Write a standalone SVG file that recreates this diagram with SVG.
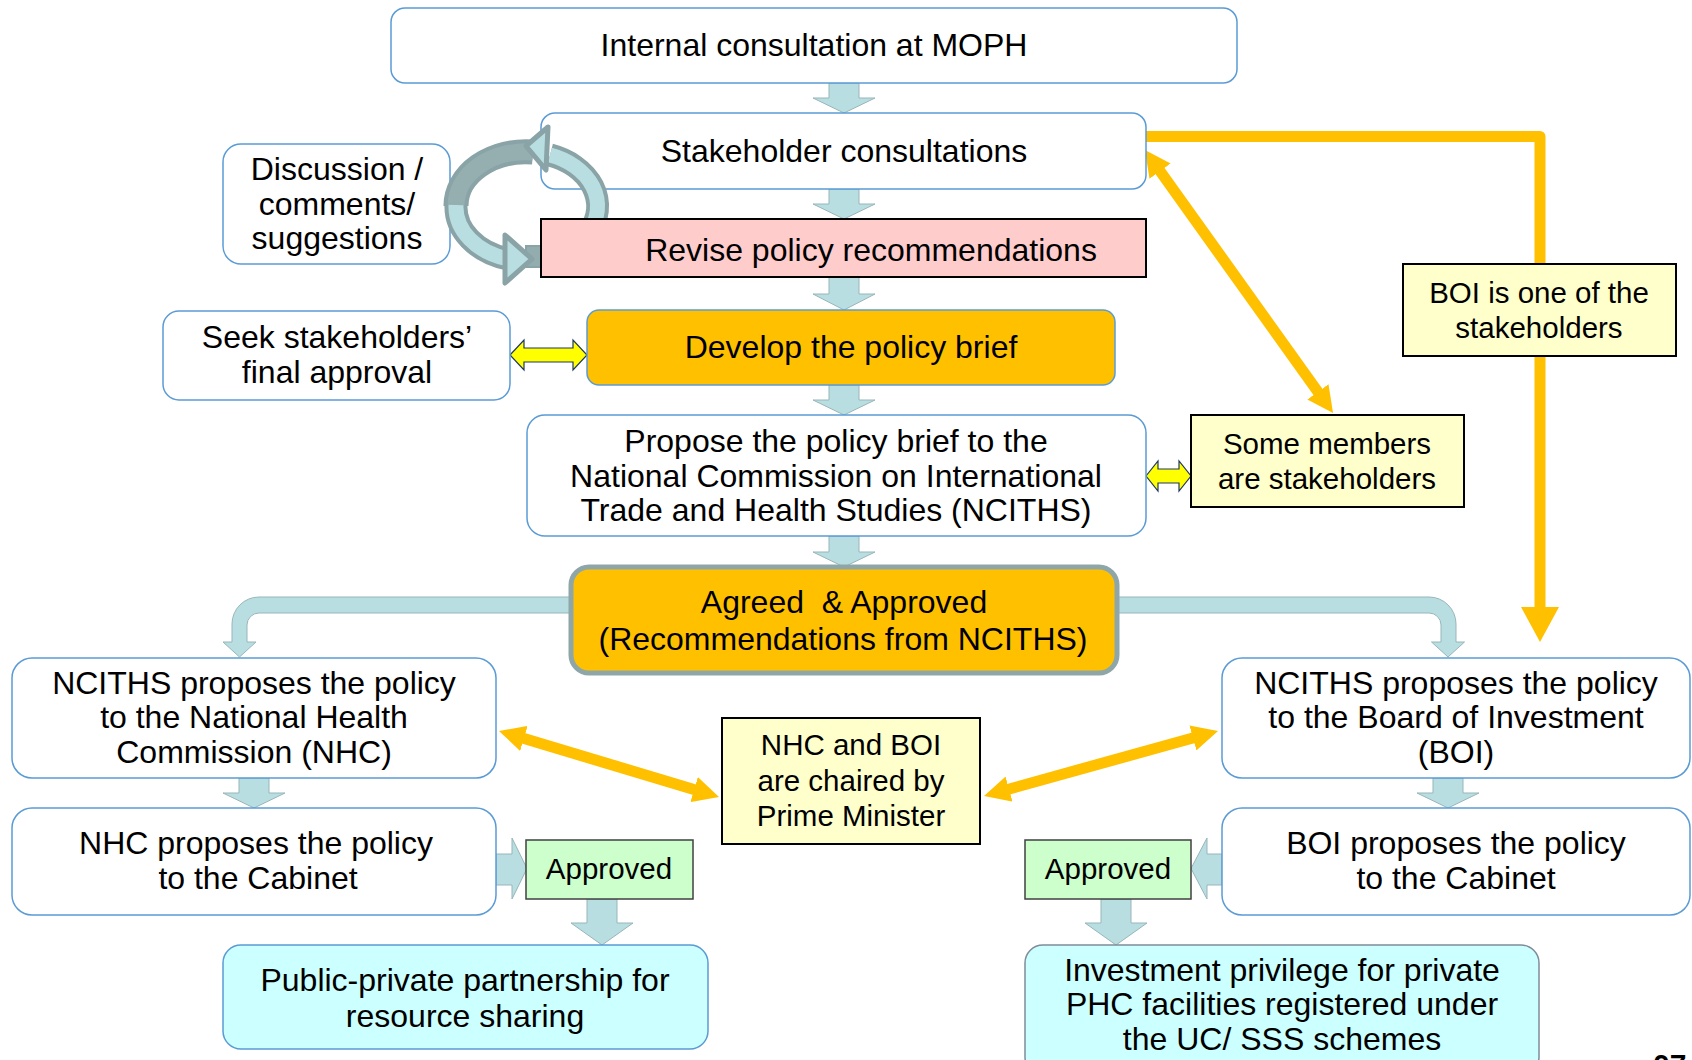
<svg xmlns="http://www.w3.org/2000/svg" width="1692" height="1060" viewBox="0 0 1692 1060">
<style>
.box{fill:#FFFFFF;stroke:#5B9BD5;stroke-width:1.5}
.t{font-family:"Liberation Sans",Arial,sans-serif;font-size:32px;fill:#000;text-anchor:middle}
.s{font-size:29.5px}
.blk{fill:#B9DEE1;stroke:#97B6BA;stroke-width:1}
.or{stroke:#FFC000;stroke-width:11;fill:none}
.orf{fill:#FFC000;stroke:none}
.yl{fill:#FFFF00;stroke:#1F3864;stroke-width:1.2}
.note{fill:#FFFFCC;stroke:#000;stroke-width:2}
.ok{fill:#CCFFCC;stroke:#404040;stroke-width:1.5}
.res{fill:#CCFFFF;stroke:#5B9BD5;stroke-width:1.5}
</style>
<defs>
<marker id="oh" viewBox="0 0 26 26" markerWidth="26" markerHeight="26" refX="12" refY="13" markerUnits="userSpaceOnUse" orient="auto-start-reverse">
<path d="M0 0 L26 13 L0 26 Z" fill="#FFC000"/>
</marker>
</defs>
<rect width="1692" height="1060" fill="#FFFFFF"/>

<g id="connectors">
<path class="blk" d="M829 83 H859 V98 H875 L844 113 L813 98 H829 Z"/>
<path class="blk" d="M829 189 H859 V204 H875 L844 219 L813 204 H829 Z"/>
<path class="blk" d="M829 277 H859 V294 H875 L844 310 L813 294 H829 Z"/>
<path class="blk" d="M829 385 H859 V400 H875 L844 415 L813 400 H829 Z"/>
<path class="blk" d="M829 536 H859 V552 H875 L844 567 L813 552 H829 Z"/>
<path class="blk" d="M239 778 H269 V793 H285 L254 808 L223 793 H239 Z"/>
<path class="blk" d="M1433 778 H1463 V793 H1479 L1448 808 L1417 793 H1433 Z"/>
<path class="blk" d="M587 899 H617 V923 H633 L602 945 L571 923 H587 Z"/>
<path class="blk" d="M1101 899 H1131 V923 H1147 L1116 945 L1085 923 H1101 Z"/>
<path class="blk" d="M496 854 H512 V838 L527 868.5 L512 899 V885 H496 Z"/>
<path class="blk" d="M1222 854 H1207 V838 L1191 868.5 L1207 899 V885 H1222 Z"/>
<path class="blk" d="M575 597 H259 A27 27 0 0 0 232 624 V642 H223 L239.5 657 L256 642 H247 V625 A12 12 0 0 1 259 613 H575 Z"/>
<path class="blk" d="M1113 597 H1429 A27 27 0 0 1 1456 624 V642 H1464.5 L1448 657 L1431.5 642 H1441 V625 A12 12 0 0 0 1429 613 H1113 Z"/>
<path class="or" d="M1146 136.5 H1540 V612" stroke-linejoin="round"/>
<path class="orf" d="M1521 607 H1559 L1540 642 Z"/>
<line class="or" x1="1153.1" y1="161.4" x2="1324.9" y2="401.6" marker-start="url(#oh)" marker-end="url(#oh)"/>
<line class="or" x1="512.4" y1="735" x2="705.6" y2="793" marker-start="url(#oh)" marker-end="url(#oh)"/>
<line class="or" x1="997.5" y1="792.3" x2="1204.5" y2="734.7" marker-start="url(#oh)" marker-end="url(#oh)"/>
<path class="yl" d="M510 355 L524 340 V348 H573 V340 L587 355 L573 370 V362 H524 V370 Z"/>
<path class="yl" d="M1146 476 L1158 461 V469 H1179 V461 L1191 476 L1179 491 V483 H1158 V491 Z"/>
</g>

<g id="n-internal">
<rect class="box" x="391" y="8" width="846" height="75" rx="14"/>
<text class="t" x="814" y="56">Internal consultation at MOPH</text>
</g>
<g id="n-stakeholder">
<rect class="box" x="541" y="113" width="605" height="76" rx="14"/>
<text class="t" x="844" y="161.5">Stakeholder consultations</text>
</g>
<g id="n-discussion">
<rect class="box" x="223" y="144" width="227" height="120" rx="18"/>
<text class="t" x="337" y="180">Discussion /</text>
<text class="t" x="337" y="214.5">comments/</text>
<text class="t" x="337" y="249">suggestions</text>
</g>
<g id="loop-arrow">
<path d="M533 152 A70 54 0 0 0 456 206" fill="none" stroke="#89A3A6" stroke-width="25"/>
<path d="M533 152 A70 54 0 0 0 456 206" fill="none" stroke="#95AEB0" stroke-width="17"/>
<path d="M456 205 A70 54 0 0 0 508 259" fill="none" stroke="#89A3A6" stroke-width="23"/>
<path d="M456 205 A70 54 0 0 0 508 259" fill="none" stroke="#B9DEE1" stroke-width="15"/>
<rect x="526" y="246" width="17" height="21" fill="#93ACAE" stroke="#89A3A6" stroke-width="2"/>
<polygon points="505,235 532,259 505,283" fill="#B9DEE1" stroke="#89A3A6" stroke-width="5" stroke-linejoin="round"/>
<path d="M589 232 A70 54 0 0 0 550 155" fill="none" stroke="#89A3A6" stroke-width="23"/>
<path d="M589 232 A70 54 0 0 0 550 155" fill="none" stroke="#B9DEE1" stroke-width="15"/>
<polygon points="548,127 526,146 546,170" fill="#B9DEE1" stroke="#89A3A6" stroke-width="5" stroke-linejoin="round"/>
</g>
<g id="n-revise">
<rect x="541" y="219" width="605" height="58" fill="#FFCCCC" stroke="#000" stroke-width="2"/>
<text class="t" x="871" y="261">Revise policy recommendations</text>
</g>
<g id="n-seek">
<rect class="box" x="163" y="311" width="347" height="89" rx="16"/>
<text class="t" x="337" y="348">Seek stakeholders’</text>
<text class="t" x="337" y="383">final approval</text>
</g>
<g id="n-develop">
<rect x="587" y="310" width="528" height="75" rx="12" fill="#FFC000" stroke="#5B9BD5" stroke-width="1.5"/>
<text class="t" x="851" y="358">Develop the policy brief</text>
</g>
<g id="n-propose">
<rect class="box" x="527" y="415" width="619" height="121" rx="18"/>
<text class="t" x="836" y="452">Propose the policy brief to the</text>
<text class="t" x="836" y="486.5">National Commission on International</text>
<text class="t" x="836" y="521">Trade and Health Studies (NCITHS)</text>
</g>
<g id="n-some">
<rect class="note" x="1191" y="415" width="273" height="92"/>
<text class="t s" x="1327" y="454">Some members</text>
<text class="t s" x="1327" y="489">are stakeholders</text>
</g>
<g id="n-boi-stake">
<rect class="note" x="1403" y="264" width="273" height="92"/>
<text class="t s" x="1539" y="303">BOI is one of the</text>
<text class="t s" x="1539" y="338">stakeholders</text>
</g>
<g id="n-agreed">
<rect x="571" y="567" width="546" height="106" rx="18" fill="#FFC000" stroke="#8FA6A8" stroke-width="5"/>
<text class="t" x="844" y="613" style="white-space:pre">Agreed  &amp; Approved</text>
<text class="t" x="843" y="650">(Recommendations from NCITHS)</text>
</g>
<g id="n-nciths-nhc">
<rect class="box" x="12" y="658" width="484" height="120" rx="20"/>
<text class="t" x="254" y="693.5">NCITHS proposes the policy</text>
<text class="t" x="254" y="728">to the National Health</text>
<text class="t" x="254" y="762.5">Commission (NHC)</text>
</g>
<g id="n-nhc-cabinet">
<rect class="box" x="12" y="808" width="484" height="107" rx="20"/>
<text class="t" x="256" y="854">NHC proposes the policy</text>
<text class="t" x="258" y="889">to the Cabinet</text>
</g>
<g id="n-approved-left">
<rect class="ok" x="526" y="840" width="167" height="59"/>
<text class="t s" x="609" y="879">Approved</text>
</g>
<g id="n-ppp">
<rect class="res" x="223" y="945" width="485" height="104" rx="18"/>
<text class="t" x="465" y="991">Public-private partnership for</text>
<text class="t" x="465" y="1027">resource sharing</text>
</g>
<g id="n-pm">
<rect class="note" x="722" y="718" width="258" height="126"/>
<text class="t s" x="851" y="755">NHC and BOI</text>
<text class="t s" x="851" y="791">are chaired by</text>
<text class="t s" x="851" y="826">Prime Minister</text>
</g>
<g id="n-nciths-boi">
<rect class="box" x="1222" y="658" width="468" height="120" rx="20"/>
<text class="t" x="1456" y="693.5">NCITHS proposes the policy</text>
<text class="t" x="1456" y="728">to the Board of Investment</text>
<text class="t" x="1456" y="762.5">(BOI)</text>
</g>
<g id="n-boi-cabinet">
<rect class="box" x="1222" y="808" width="468" height="107" rx="20"/>
<text class="t" x="1456" y="854">BOI proposes the policy</text>
<text class="t" x="1456" y="889">to the Cabinet</text>
</g>
<g id="n-approved-right">
<rect class="ok" x="1025" y="840" width="166" height="59"/>
<text class="t s" x="1108" y="879">Approved</text>
</g>
<g id="n-investment">
<rect class="res" x="1025" y="945" width="514" height="130" rx="18" style="stroke:#7F8C99"/>
<text class="t" x="1282" y="980.5">Investment privilege for private</text>
<text class="t" x="1282" y="1015">PHC facilities registered under</text>
<text class="t" x="1282" y="1049.5">the UC/ SSS schemes</text>
</g>
<text x="1653" y="1075" font-family="Liberation Sans, Arial, sans-serif" font-size="30" font-weight="bold">07</text>
</svg>
